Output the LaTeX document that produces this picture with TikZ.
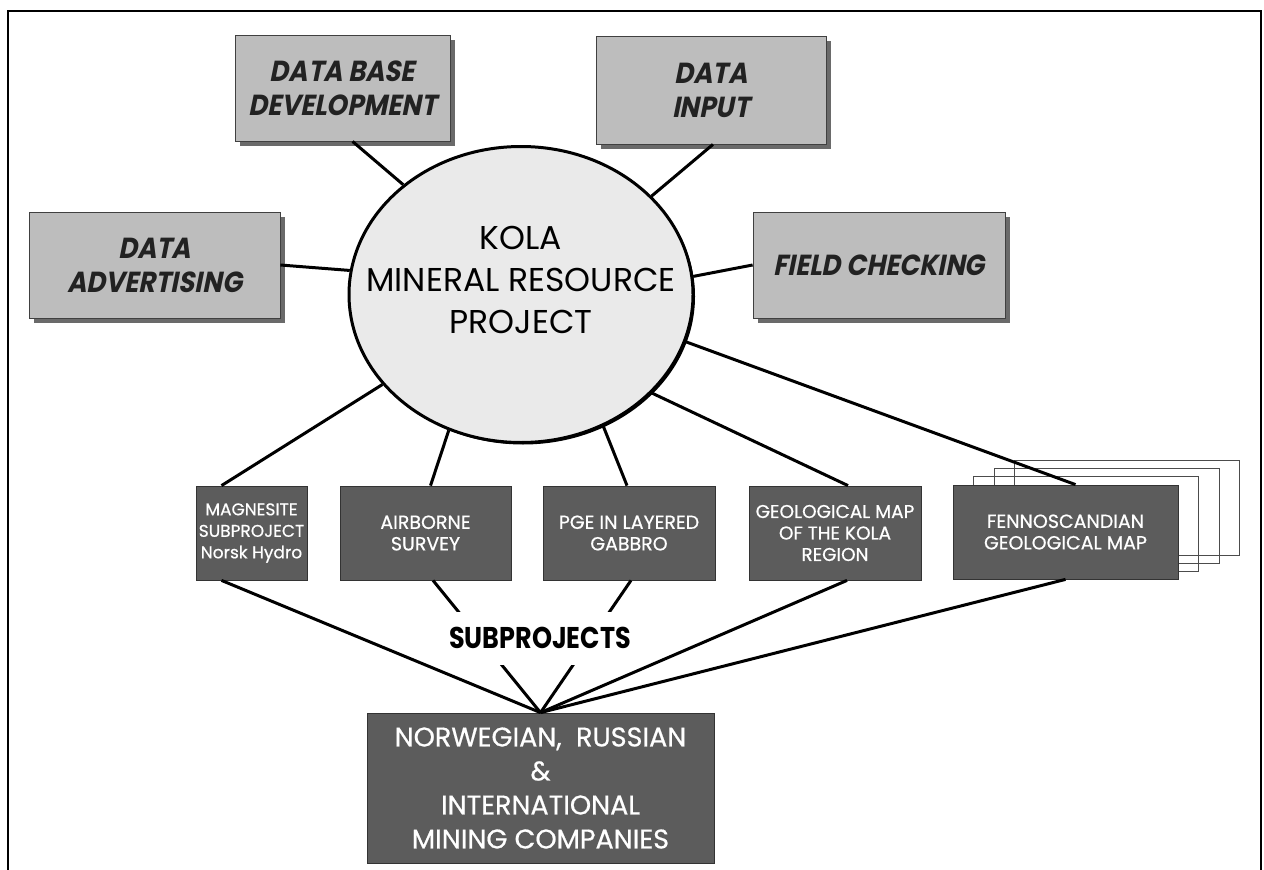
\documentclass[tikz,border=0pt]{standalone}
\usepackage{fontspec}
\setmainfont{Poppins}
\newfontfamily\slantfont[FakeSlant=0.2,FakeStretch=0.9]{Poppins}
\newfontfamily\boxfont[FakeBold=0.6]{Poppins}
\newfontfamily\headfont[FakeStretch=0.85]{Poppins}
\usetikzlibrary{shapes.geometric,shadows}

\definecolor{boxlight}{HTML}{BDBDBD}
\definecolor{boxshade}{HTML}{6A6A6A}
\definecolor{boxdark}{HTML}{5C5C5C}
\definecolor{ovalfill}{HTML}{EAEAEA}
\definecolor{inktext}{HTML}{222222}

\begin{document}
\begin{tikzpicture}[x=1pt,y=-1pt,
  topbox/.style={rectangle, draw=black!75, line width=0.8pt, fill=boxlight,
    align=center, text=inktext, inner sep=0pt,
    font=\slantfont\bfseries\fontsize{29}{34}\selectfont,
    drop shadow={shadow xshift=5pt, shadow yshift=-5pt, fill=boxshade, opacity=1}},
  subbox/.style={rectangle, draw=black!80, line width=0.8pt, fill=boxdark,
    align=center, text=white, inner sep=0pt, minimum height=94pt,
    font=\boxfont\fontsize{19}{21.5}\selectfont},
  ghost/.style={rectangle, draw=black!70, line width=0.8pt,
    minimum width=225pt, minimum height=95pt, inner sep=0pt},
  link/.style={line width=3pt, black},
]
\useasboundingbox (0,0) rectangle (1264,870);
\fill[white] (0,0) rectangle (1264,870);
% outer frame
\draw[line width=2.5pt] (8,11) rectangle (1261,880);

% activity boxes around the project
\node[topbox, minimum width=215pt, minimum height=106pt] (dbase) at (342.5,88) {DATA BASE\\DEVELOPMENT};
\node[topbox, minimum width=230pt, minimum height=108pt] (dinput) at (711,90) {DATA\\INPUT};
\node[topbox, minimum width=251pt, minimum height=106pt] (advert) at (154.5,265) {DATA\\ADVERTISING};
\node[topbox, minimum width=252pt, minimum height=106pt] (field) at (879,265) {FIELD CHECKING};

% central project
\node[ellipse, draw=black, line width=3pt, fill=ovalfill, minimum width=344pt,
  minimum height=296pt, inner sep=0pt,
  drop shadow={shadow xshift=2pt, shadow yshift=-2pt, fill=black, opacity=1}] (kola) at (521,294.5) {};
\node[font=\fontsize{33}{42}\selectfont, align=center] (kolatitle) at (521,280) {KOLA\\MINERAL RESOURCE\\PROJECT};

% map sheets stacked behind the Fennoscandian map
\node[ghost] (sheetc) at (1127,508) {};
\node[ghost] (sheetb) at (1106.5,516) {};
\node[ghost] (sheeta) at (1086,524) {};

% subprojects
\node[subbox, minimum width=111pt, font=\boxfont\fontsize{17}{21.5}\selectfont] (magn) at (251.5,533) {MAGNESITE\\SUBPROJECT\\Norsk Hydro};
\node[subbox, minimum width=171pt] (air) at (425.5,533) {AIRBORNE\\SURVEY};
\node[subbox, minimum width=172pt] (pge) at (629,533) {PGE IN LAYERED\\GABBRO};
\node[subbox, minimum width=172pt, font=\boxfont\fontsize{18.5}{21.5}\selectfont] (geo) at (835,533) {GEOLOGICAL MAP\\OF THE KOLA\\REGION};
\node[subbox, minimum width=225pt] (fenno) at (1065.5,532) {FENNOSCANDIAN\\GEOLOGICAL MAP};

% companies
\node[subbox, minimum width=347pt, minimum height=150pt, font=\boxfont\fontsize{27}{34}\selectfont] (firms) at (540.5,788)
  {NORWEGIAN,\ \ RUSSIAN\\\&\\INTERNATIONAL\\MINING COMPANIES};

% links to the project
\draw[link] (kola.137.4) -- ([xshift=10pt]dbase.south);
\draw[link] (kola.37.4) -- ([xshift=2pt]dinput.south);
\draw[link] (kola.172.9) -- (advert.east);
\draw[link] (kola.6.3) -- (field.west);
\draw[link] (kola.213.8) -- ([xshift=-30pt]magn.north);
\draw[link] (kola.242.3) -- ([xshift=5pt]air.north);
\draw[link] (kola.-58) -- ([xshift=-2pt]pge.north);
\draw[link] (kola.-37.3) -- ([xshift=13pt]geo.north);
\draw[link] (kola.-16.4) -- ([xshift=10pt]fenno.north);

% links to the companies
\draw[link] ([xshift=-30pt]magn.south) -- (firms.north);
\draw[link] ([xshift=7.5pt]air.south) -- (firms.north);
\draw[link] ([xshift=2pt]pge.south) -- (firms.north);
\draw[link] ([xshift=12pt]geo.south) -- (firms.north);
\draw[link] (fenno.south) -- (firms.north);

\node[fill=white, font=\headfont\bfseries\fontsize{30}{30}\selectfont, inner xsep=3pt,
  minimum height=53pt] (subtitle) at (540,638) {SUBPROJECTS};
\end{tikzpicture}
\end{document}
